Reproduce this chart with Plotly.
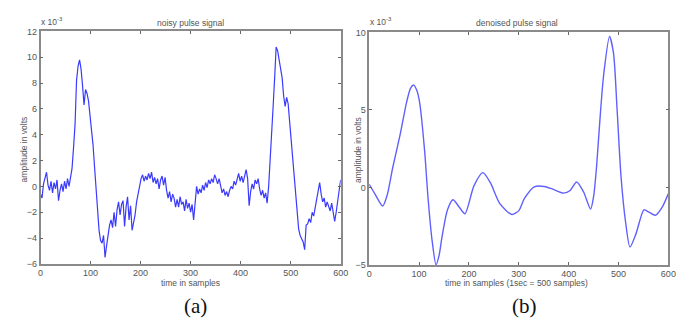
import plotly.graph_objects as go

# ---------------- data ----------------
noisy_step = 3  # sample spacing of the read-off values
noisy_values = [
    -0.6, -0.9, 0.2, 0.6, 1.1, 0.1, -0.3, 0.4, -0.5, 0.3,
    -0.2, 0.5, -1.1, -0.3, 0.2, -0.4, 0.4, -0.2, 0.6, 0.0,
    0.9, 1.4, 3.0, 4.8, 8.2, 9.3, 9.8, 9.1, 7.8, 6.3,
    7.5, 7.2, 6.6, 5.6, 4.6, 3.2, 1.5, -0.4, -2.0, -3.4,
    -4.2, -4.4, -3.8, -5.5, -4.6, -3.6, -3.0, -2.6, -3.2, -2.0,
    -3.1, -1.8, -1.2, -2.2, -1.4, -1.1, -3.1, -1.6, -0.8, -2.6,
    -1.5, -3.4, -2.8, -2.2, -1.2, -0.6, 0.2, 0.6, 0.9, 0.4,
    0.8, 0.5, 1.0, 0.6, 1.1, 0.3, 0.7, 0.2, 0.6, -0.2,
    0.5, 0.8, 0.1, 0.7, -0.3, -0.9, -0.4, -1.2, -0.6, -0.9,
    -1.6, -1.0, -1.6, -0.8, -1.4, -1.2, -1.9, -1.0, -1.7, -1.3,
    -2.0, -1.4, -2.6, -1.2, 0.0, -0.6, -0.2, -0.5, 0.1, -0.3,
    0.3, -0.1, 0.5, 0.2, 0.6, 0.3, 0.9, 0.6, 0.2, 0.6,
    -0.1, -0.5, -0.2, -0.7, -0.4, -0.8, -0.3, 0.0, -0.2, 0.4,
    0.1, 0.7, 1.0, 0.4, 0.8, 0.3, 0.9, 1.3, 0.6, -1.5,
    -0.4, 0.2, -0.2, 0.5, 0.2, 0.6, -0.2, -0.7, -0.3, -0.9,
    -0.5, -1.3, 0.0, 1.8, 4.0, 6.2, 8.4, 10.8, 10.5, 9.8,
    9.1, 8.4, 7.0, 6.2, 6.9, 6.4, 5.0, 3.6, 2.2, 0.4,
    -1.0, -2.2, -3.3, -3.8, -4.0, -4.3, -4.9, -3.0, -2.9, -2.5,
    -2.8, -2.0, -2.3, -1.7, -1.2, -0.4, 0.3, -0.6, -1.2, -0.9,
    -1.6, -1.2, -1.5, -1.9, -1.3, -2.1, -2.7, -2.0, -0.9, -0.3,
    0.5,
]
noisy_x = list(range(0, noisy_step * len(noisy_values), noisy_step))

denoised_x = [0, 12, 27, 36, 47, 62, 75, 83, 89, 95, 101, 111, 118, 126, 134,
              140, 146, 157, 168, 180, 192, 210, 228, 243, 262, 286, 300, 311,
              331, 351, 367, 390, 403, 416, 430, 444, 450, 456, 462, 470, 482,
              490, 497, 505, 514, 523, 535, 551, 561, 574, 588, 600]
denoised_values = [0.2, -0.45, -1.2, -0.5, 1.25, 3.4, 5.5, 6.4, 6.6, 6.3, 5.5,
                   2.4, -0.7, -3.4, -5.0, -4.4, -3.2, -1.45, -0.8, -1.25, -1.7,
                   0.1, 0.95, 0.3, -1.05, -1.75, -1.5, -0.73, 0.04, 0.06, -0.1,
                   -0.37, -0.2, 0.35, -0.3, -1.4, -0.6, 1.35, 4.05, 7.2, 9.73,
                   8.65, 5.1, 0.7, -2.2, -3.85, -3.0, -1.45, -1.6, -1.8, -1.25,
                   -0.4]

x_ticks = [0, 100, 200, 300, 400, 500, 600]
left_y_ticks = [-6, -4, -2, 0, 2, 4, 6, 8, 10, 12]
right_y_ticks = [-5, 0, 5, 10]

W, H = 692, 320


def px(x):
    return x / W


def py(y):
    return 1 - y / H


fig = go.Figure()
fig.add_trace(go.Scatter(x=noisy_x, y=noisy_values, mode="lines",
                         line=dict(color="#3a3aff", width=1.2),
                         xaxis="x", yaxis="y", showlegend=False))
fig.add_trace(go.Scatter(x=denoised_x, y=denoised_values, mode="lines",
                         line=dict(color="#6060ff", width=1.4, shape="spline", smoothing=0.7),
                         xaxis="x2", yaxis="y2", showlegend=False))

tickfont = dict(family="Arial, Liberation Sans, sans-serif", size=9, color="#555555")
axis_common = dict(showgrid=False, zeroline=False, showline=True, linecolor="#8a8a8a",
                   linewidth=1.5, mirror="allticks", ticks="inside", ticklen=3,
                   tickcolor="#666666", tickfont=tickfont)

fig.update_layout(
    width=W, height=H, margin=dict(l=0, r=0, t=0, b=0),
    paper_bgcolor="white", plot_bgcolor="white",
    xaxis=dict(domain=[px(30), px(335)], range=[0, 600], tickvals=x_ticks,
               anchor="y", **axis_common),
    yaxis=dict(domain=[py(259), py(19)], range=[-6, 12], tickvals=left_y_ticks,
               anchor="x", **axis_common),
    xaxis2=dict(domain=[px(364), px(668)], range=[0, 600], tickvals=x_ticks,
                anchor="y2", **axis_common),
    yaxis2=dict(domain=[py(260), py(20)], range=[-5, 10], tickvals=right_y_ticks,
                anchor="x2", **axis_common),
)

small = dict(family="Arial, Liberation Sans, sans-serif", size=8.5, color="#555555")
ann = [
    dict(x=px(182), y=py(10), text="noisy pulse signal", font=small),
    dict(x=px(514), y=py(10), text="denoised pulse signal", font=small),
    dict(x=px(42), y=py(9), text="x 10<sup>-3</sup>", font=small),
    dict(x=px(376), y=py(9), text="x 10<sup>-3</sup>", font=small),
    dict(x=px(13), y=py(141), text="amplitude in volts", font=small, textangle=-90),
    dict(x=px(352), y=py(141), text="amplitude in volts", font=small, textangle=-90),
    dict(x=px(182), y=py(279), text="time in samples", font=small),
    dict(x=px(514), y=py(279), text="time in samples (1sec = 500 samples)", font=small),
    dict(x=px(187), y=py(302), text="(a)",
         font=dict(family="Liberation Serif, Times New Roman, serif", size=21, color="#111111")),
    dict(x=px(522), y=py(302), text="(b)",
         font=dict(family="Liberation Serif, Times New Roman, serif", size=21, color="#111111")),
]
for a in ann:
    fig.add_annotation(xref="paper", yref="paper", showarrow=False,
                       xanchor="center", yanchor="middle", **a)

fig.write_html("out.html")
